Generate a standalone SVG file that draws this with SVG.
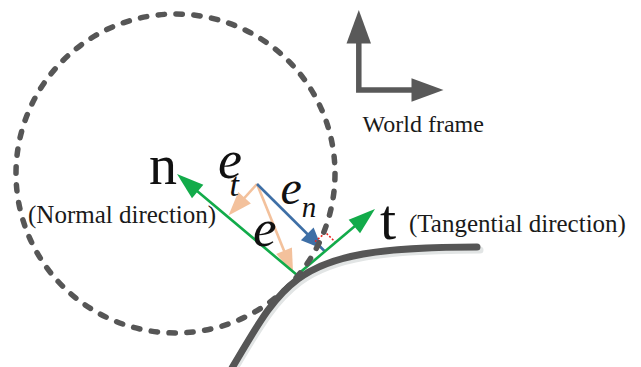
<svg xmlns="http://www.w3.org/2000/svg" width="641" height="367" viewBox="0 0 641 367">
<style>
.lbl{font-family:"Liberation Serif","Times New Roman",serif;fill:#1a1a1a}
.sym{font-family:"Liberation Serif","Times New Roman",serif;fill:#111}
.it{font-style:italic}
.green{stroke:#12ab4a;stroke-width:2.6;fill:none}
.orange{stroke:#f3c19c;stroke-width:2.6;fill:none}
.blue{stroke:#3e6fa6;stroke-width:2.6;fill:none}
</style>
<defs>
<marker id="ag" markerUnits="userSpaceOnUse" viewBox="-30 -12 40 24" refX="-6" refY="0" markerWidth="40" markerHeight="24" orient="auto" overflow="visible">
<path d="M0,0 L-27,-8.8 L-27,8.8 Z" fill="#12ab4a"/>
</marker>
<marker id="ao" markerUnits="userSpaceOnUse" viewBox="-30 -12 40 24" refX="-6" refY="0" markerWidth="40" markerHeight="24" orient="auto" overflow="visible">
<path d="M0,0 L-24,-8.5 L-24,8.5 Z" fill="#f3c19c"/>
</marker>
<marker id="ab" markerUnits="userSpaceOnUse" viewBox="-30 -12 40 24" refX="0" refY="0" markerWidth="40" markerHeight="24" orient="auto" overflow="visible">
<path d="M-4,0 L-25,-9 L-25,9 Z" fill="#3e6fa6"/>
</marker>
</defs>
<rect width="641" height="367" fill="#fff"/>

<g id="surface">
<path d="M234,370 C257,332 272,303 300,282 C332,258 382,250 480,250" fill="none" stroke="#e2e5e5" stroke-width="7" stroke-linecap="round"/>
<path d="M232,368 C255,330 270,300 298,279 C330,255 380,247 477,247" fill="none" stroke="#565656" stroke-width="7" stroke-linecap="round"/>
</g>

<g id="world-frame">
<polyline points="358.8,40 358.8,90 414,90" fill="none" stroke="#595959" stroke-width="5.5" stroke-linejoin="miter"/>
<polygon points="358.8,10 346.5,43.5 371,43.5" fill="#595959"/>
<polygon points="443.5,90 411.5,78.3 411.5,101.7" fill="#595959"/>
<text class="lbl" x="362.5" y="131.5" font-size="24">World frame</text>
</g>

<g id="connectors">
<line id="e-t" class="orange" x1="257" y1="184" x2="232.5" y2="211.1" marker-end="url(#ao)"/>
<line id="e" class="orange" x1="257" y1="184" x2="290.8" y2="267.4" marker-end="url(#ao)"/>
<line id="e-n" class="blue" x1="257" y1="184" x2="325" y2="251.5" marker-end="url(#ab)"/>
<path id="right-angle" d="M315,241.6 L325.7,232.6 L335.7,242.5" fill="none" stroke="#e8241f" stroke-width="1.6" stroke-dasharray="2 1.8"/>
<line id="normal" class="green" x1="297" y1="275" x2="181.6" y2="177.9" marker-end="url(#ag)"/>
<line id="tangent" class="green" x1="297" y1="275" x2="370.4" y2="212.9" marker-end="url(#ag)"/>
</g>

<g id="circle">
<circle cx="175.5" cy="173.5" r="159.5" fill="none" stroke="#565656" stroke-width="5.5" stroke-linecap="round" stroke-dasharray="6.4 11.5"/>
</g>

<g id="labels">
<text class="sym" x="149" y="184" font-size="56">n</text>
<text class="lbl" x="28" y="222.5" font-size="25">(Normal direction)</text>
<text class="sym" x="380" y="238.5" font-size="58">t</text>
<text class="lbl" x="409" y="231.5" font-size="25">(Tangential direction)</text>
<text class="sym it" x="218" y="177.5" font-size="54">e<tspan font-size="34" dx="-12.5" dy="18.5">t</tspan></text>
<text class="sym it" x="280.5" y="203.5" font-size="48">e<tspan font-size="29" dx="0" dy="13">n</tspan></text>
<text class="sym it" x="253" y="246" font-size="53">e</text>
</g>
</svg>
